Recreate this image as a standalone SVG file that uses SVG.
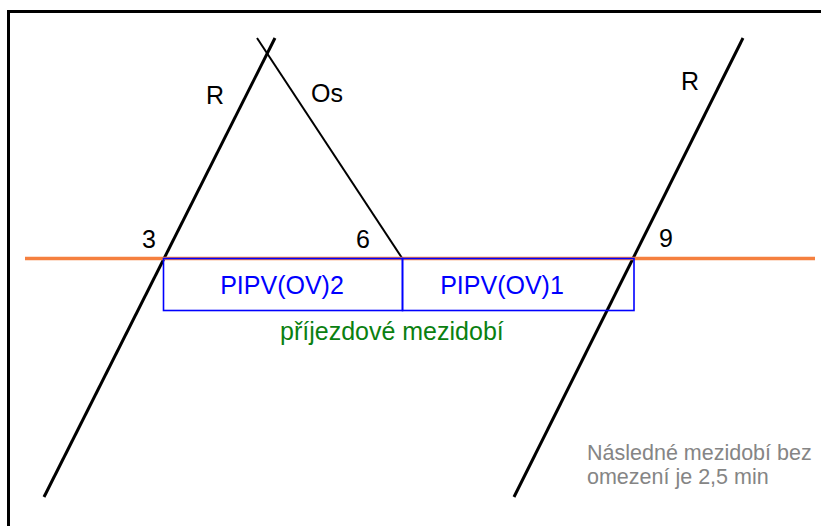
<svg xmlns="http://www.w3.org/2000/svg" width="821" height="526" viewBox="0 0 821 526">
<style>
text{font-family:"Liberation Sans",Arial,sans-serif;}
.lbl{font-size:25px;fill:#000;}
.blue{font-size:25px;fill:#0000ff;text-anchor:middle;}
.trk{stroke:#000;stroke-width:3;fill:none;stroke-linecap:butt;}
.box{stroke:#0000ff;stroke-width:1.6;fill:none;}
.note{font-size:21.5px;fill:#858585;}
</style>
<rect width="821" height="526" fill="#ffffff"/>
<path d="M8.5,526 V11.5 H821" fill="none" stroke="#000" stroke-width="3"/>
<g id="connectors">
<line class="trk" x1="44" y1="497" x2="275" y2="38"/>
<line class="trk" x1="257" y1="38" x2="402" y2="258" style="stroke-width:2"/>
<line class="trk" x1="514" y1="497" x2="743" y2="38"/>
<line x1="25" y1="258.5" x2="815" y2="258.5" stroke="#f5803f" stroke-width="3.5"/>
</g>
<g id="pipv2">
<rect class="box" x="163.5" y="258.5" width="239" height="52"/>
<text class="blue" x="282" y="294">PIPV(OV)2</text>
</g>
<g id="pipv1">
<rect class="box" x="402.5" y="258.5" width="231.5" height="52"/>
<text class="blue" x="502" y="294">PIPV(OV)1</text>
</g>
<g id="labels">
<text class="lbl" x="206" y="104">R</text>
<text class="lbl" x="311" y="102">Os</text>
<text class="lbl" x="681" y="90">R</text>
<text class="lbl" x="142" y="248">3</text>
<text class="lbl" x="356" y="248">6</text>
<text class="lbl" x="659" y="247">9</text>
<text x="280" y="340" style="font-size:25px;fill:#0a8010">příjezdové mezidobí</text>
<text class="note" x="587" y="460">Následné mezidobí bez</text>
<text class="note" x="587" y="484">omezení je 2,5 min</text>
</g>
</svg>
